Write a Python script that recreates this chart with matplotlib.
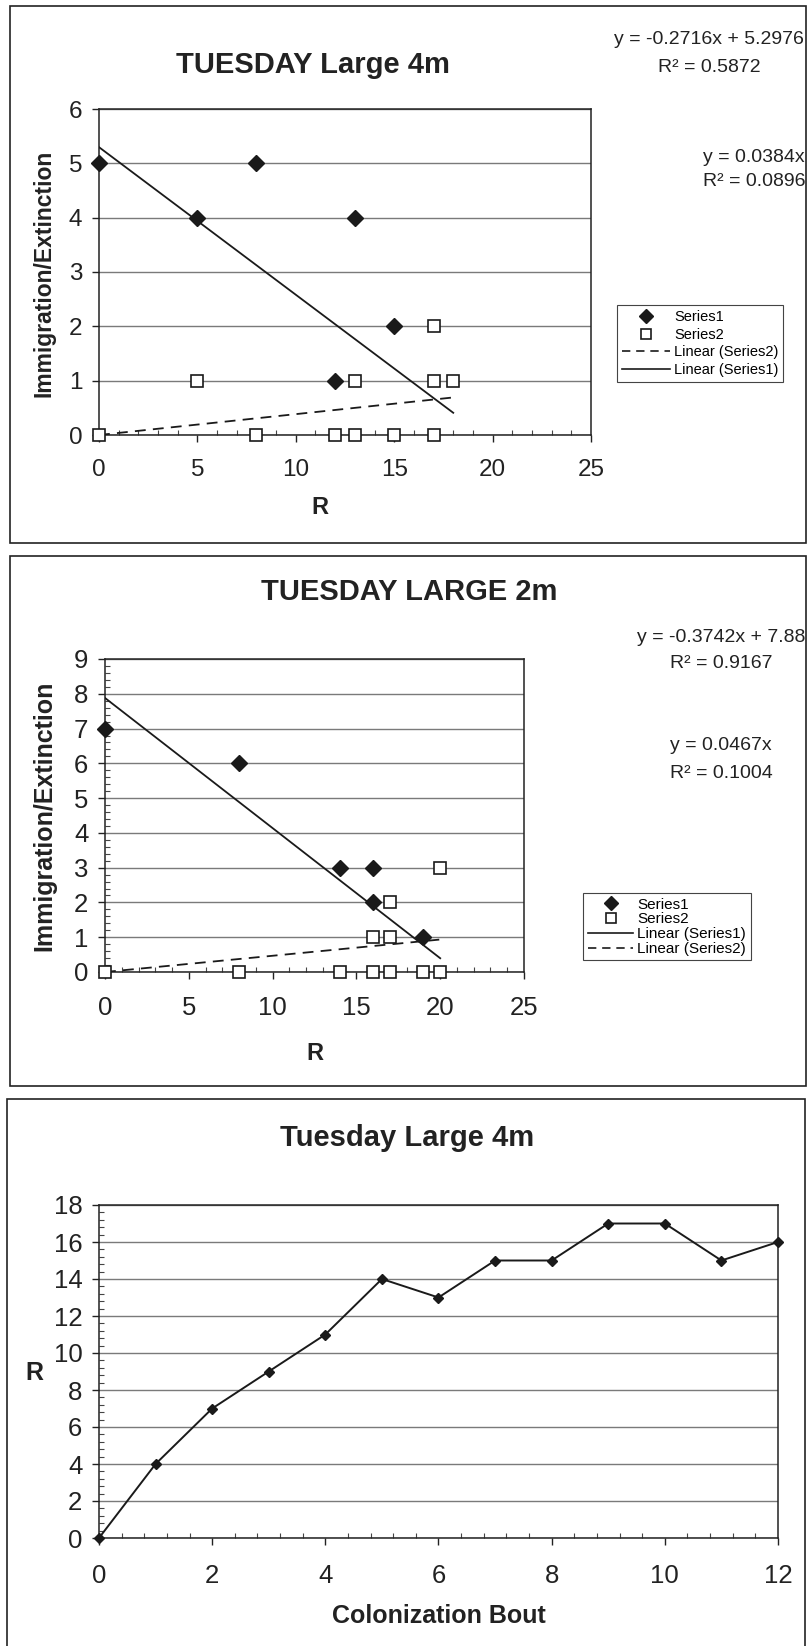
import matplotlib
matplotlib.use("Agg")
import matplotlib.pyplot as plt
from matplotlib.lines import Line2D
from matplotlib.patches import Rectangle
from matplotlib.ticker import MultipleLocator
import numpy as np

plt.rcParams['font.family'] = ['Liberation Sans', 'DejaVu Sans']

W, H = 807, 1646

# ---- data: TUESDAY Large 4m (immigration / extinction vs R)
p1_s1_x = [0, 5, 8, 12, 13, 15]
p1_s1_y = [5, 4, 5, 1, 4, 2]
p1_s2_x = [0, 5, 8, 12, 13, 13, 15, 17, 17, 17, 18]
p1_s2_y = [0, 1, 0, 0, 0, 1, 0, 0, 1, 2, 1]
p1_fit1 = (-0.2716, 5.2976)
p1_fit2 = (0.0384, 0.0)
p1_eq1 = ["y = -0.2716x + 5.2976", "R\u00b2 = 0.5872"]
p1_eq2 = ["y = 0.0384x", "R\u00b2 = 0.0896"]

# ---- data: TUESDAY LARGE 2m
p2_s1_x = [0, 8, 14, 16, 16, 19]
p2_s1_y = [7, 6, 3, 3, 2, 1]
p2_s2_x = [0, 8, 14, 16, 17, 19, 20, 16, 17, 17, 20]
p2_s2_y = [0, 0, 0, 0, 0, 0, 0, 1, 1, 2, 3]
p2_fit1 = (-0.3742, 7.88)
p2_fit2 = (0.0467, 0.0)
p2_eq1 = ["y = -0.3742x + 7.88", "R\u00b2 = 0.9167"]
p2_eq2 = ["y = 0.0467x", "R\u00b2 = 0.1004"]

# ---- data: Tuesday Large 4m (R vs colonization bout)
bouts = [0, 1, 2, 3, 4, 5, 6, 7, 8, 9, 10, 11, 12]
r_values = [0, 4, 7, 9, 11, 14, 13, 15, 15, 17, 17, 15, 16]

INK = "#222222"


def fx(x):
    return x / W


def fy(y):
    return 1 - y / H


def add_ax(fig, l, t, r, b):
    return fig.add_axes([fx(l), fy(b), (r - l) / W, (b - t) / H])


def style_ax(ax, xmax, ymax, xmaj, ymaj, xmin=None, ymin=None, fs=17, xpad=12):
    ax.set_xlim(0, xmax)
    ax.set_ylim(0, ymax)
    ax.xaxis.set_major_locator(MultipleLocator(xmaj))
    ax.yaxis.set_major_locator(MultipleLocator(ymaj))
    if xmin:
        ax.xaxis.set_minor_locator(MultipleLocator(xmin))
    if ymin:
        ax.yaxis.set_minor_locator(MultipleLocator(ymin))
    ax.yaxis.grid(True, color="#7a7a7a", lw=1.0)
    ax.set_axisbelow(True)
    for s in ax.spines.values():
        s.set_linewidth(1.1)
        s.set_color(INK)
    ax.tick_params(which="major", direction="out", length=5, width=1.0,
                   labelsize=fs, colors=INK)
    ax.tick_params(axis="x", which="major", pad=xpad)
    ax.tick_params(axis="y", which="major", pad=7)
    ax.tick_params(which="minor", direction="in", length=3.5, width=0.8,
                   colors="#444444")


def scatter_panel(ax, s1x, s1y, s2x, s2y, fit1, fit2):
    xe = max(max(s1x), max(s2x))
    xs = np.array([0, xe])
    ax.plot(xs, fit1[0] * xs + fit1[1], color="#1a1a1a", lw=1.3, zorder=3)
    ax.plot(xs, fit2[0] * xs + fit2[1], color="#1a1a1a", lw=1.3,
            dashes=(6, 4), zorder=3)
    ax.plot(s2x, s2y, ls="none", marker="s", ms=8, mfc="white",
            mec="#1a1a1a", mew=1.2, zorder=4, clip_on=False)
    ax.plot(s1x, s1y, ls="none", marker="D", ms=8, mfc="#1a1a1a",
            mec="#1a1a1a", zorder=5, clip_on=False)


def legend_handles(order):
    h = {
        "Series1": Line2D([], [], ls="none", marker="D", ms=7, color="#1a1a1a"),
        "Series2": Line2D([], [], ls="none", marker="s", ms=6.5, mfc="white",
                          mec="#1a1a1a", mew=1.2),
        "Linear (Series1)": Line2D([], [], color="#1a1a1a", lw=1.2),
        "Linear (Series2)": Line2D([], [], color="#1a1a1a", lw=1.2, dashes=(5, 3.5)),
    }
    return [h[k] for k in order], order


fig = plt.figure(figsize=(W / 100, H / 100), dpi=100)

# panel frames
for (l, t, r, b) in [(10, 6, 806, 543), (10, 556, 806, 1086), (7, 1099, 805, 1700)]:
    fig.patches.append(Rectangle((fx(l), fy(b)), (r - l) / W, (b - t) / H,
                                 transform=fig.transFigure, fill=False,
                                 ec=INK, lw=1.2))

# ---------------- panel 1
ax1 = add_ax(fig, 99, 109, 591, 435)
style_ax(ax1, 25, 6, 5, 1, xmin=1, fs=17.5, xpad=12)
scatter_panel(ax1, p1_s1_x, p1_s1_y, p1_s2_x, p1_s2_y, p1_fit1, p1_fit2)
fig.text(fx(313), fy(65), "TUESDAY Large 4m", ha="center", va="center",
         fontsize=21, fontweight="bold", color=INK)
fig.text(fx(44), fy(273), "Immigration/Extinction", ha="center", va="center",
         rotation=90, fontsize=16.5, fontweight="bold", color=INK)
fig.text(fx(320), fy(508), "R", ha="center", va="center", fontsize=17,
         fontweight="bold", color=INK)
for txt, y in zip(p1_eq1, [40, 68]):
    fig.text(fx(709), fy(y), txt, ha="center", va="center", fontsize=14, color=INK)
for txt, y in zip(p1_eq2, [157, 182]):
    fig.text(fx(754), fy(y), txt, ha="center", va="center", fontsize=14, color=INK)
hh, ll = legend_handles(["Series1", "Series2", "Linear (Series2)", "Linear (Series1)"])
leg = ax1.legend(hh, ll, loc="upper left", bbox_to_anchor=(fx(617), fy(305)),
                 bbox_transform=fig.transFigure, borderaxespad=0, fontsize=10.5,
                 handlelength=3.3, handletextpad=0.25, labelspacing=0.25,
                 fancybox=False, framealpha=1, edgecolor="#444444", borderpad=0.35)
leg.get_frame().set_linewidth(0.8)

# ---------------- panel 2
ax2 = add_ax(fig, 105, 659, 524, 972)
style_ax(ax2, 25, 9, 5, 1, xmin=1, ymin=0.2, fs=18.5, xpad=12)
scatter_panel(ax2, p2_s1_x, p2_s1_y, p2_s2_x, p2_s2_y, p2_fit1, p2_fit2)
fig.text(fx(409), fy(592), "TUESDAY LARGE 2m", ha="center", va="center",
         fontsize=21, fontweight="bold", color=INK)
fig.text(fx(44), fy(816), "Immigration/Extinction", ha="center", va="center",
         rotation=90, fontsize=18, fontweight="bold", color=INK)
fig.text(fx(315), fy(1054), "R", ha="center", va="center", fontsize=17,
         fontweight="bold", color=INK)
for txt, y in zip(p2_eq1, [637, 664]):
    fig.text(fx(721), fy(y), txt, ha="center", va="center", fontsize=14, color=INK)
for txt, y in zip(p2_eq2, [746, 774]):
    fig.text(fx(721), fy(y), txt, ha="center", va="center", fontsize=14, color=INK)
hh, ll = legend_handles(["Series1", "Series2", "Linear (Series1)", "Linear (Series2)"])
leg = ax2.legend(hh, ll, loc="upper left", bbox_to_anchor=(fx(583), fy(893)),
                 bbox_transform=fig.transFigure, borderaxespad=0, fontsize=11,
                 handlelength=3.0, handletextpad=0.25, labelspacing=0.05,
                 fancybox=False, framealpha=1, edgecolor="#444444", borderpad=0.3)
leg.get_frame().set_linewidth(0.8)

# ---------------- panel 3
ax3 = add_ax(fig, 99, 1205, 778, 1538)
style_ax(ax3, 12, 18, 2, 2, xmin=0.4, ymin=0.4, fs=18.5, xpad=14)
ax3.plot(bouts, r_values, color="#1a1a1a", lw=1.4, marker="D", ms=5.5,
         zorder=4, clip_on=False)
fig.text(fx(407), fy(1138), "Tuesday Large 4m", ha="center", va="center",
         fontsize=21, fontweight="bold", color=INK)
fig.text(fx(34), fy(1373), "R", ha="center", va="center", fontsize=18,
         fontweight="bold", color=INK)
fig.text(fx(439), fy(1616), "Colonization Bout", ha="center", va="center",
         fontsize=18, fontweight="bold", color=INK)

fig.savefig("out.png", dpi=100)
